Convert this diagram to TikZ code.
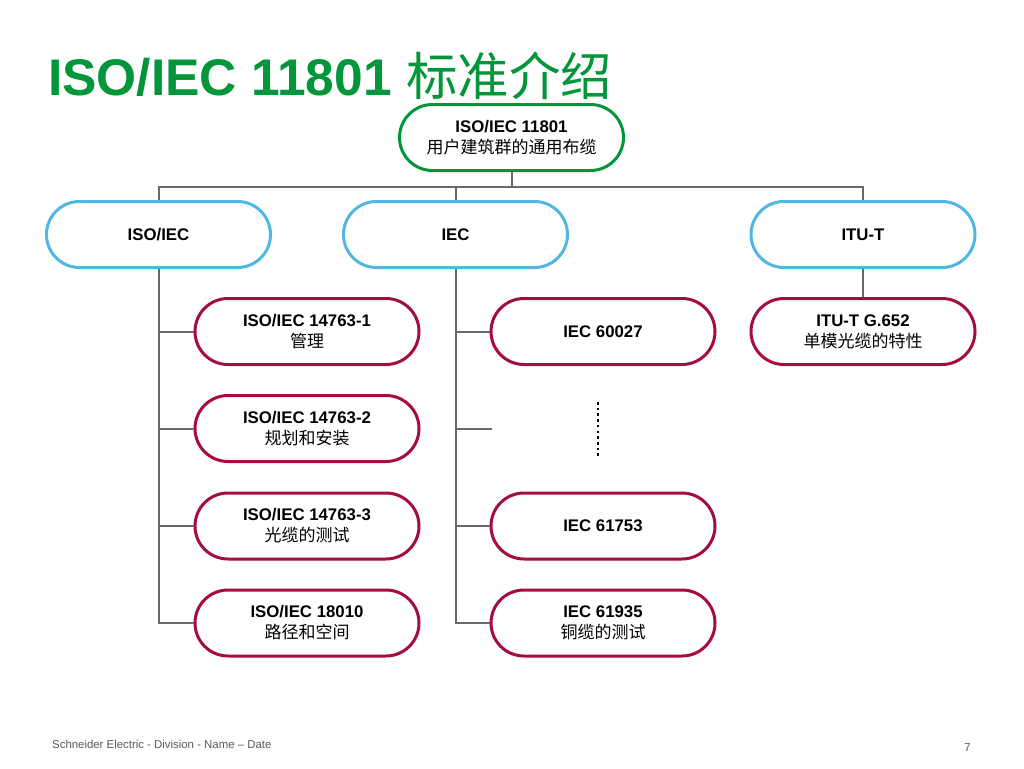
\documentclass[tikz,border=0pt]{standalone}
\usepackage{fontspec}
\setmainfont{Liberation Sans}
\newfontfamily\cjk{Noto Sans CJK SC}
\definecolor{sgreen}{RGB}{0,150,57}
\definecolor{sblue}{RGB}{82,182,226}
\definecolor{scrim}{RGB}{166,12,68}
\definecolor{conn}{RGB}{105,105,105}
\definecolor{foot}{RGB}{90,90,90}
\begin{document}
\begin{tikzpicture}[x=1pt,y=-1pt,
  box/.style={draw, line width=3pt, rounded corners=33pt, minimum width=224pt,
    minimum height=66pt, align=center, fill=white, inner sep=0pt,
    font=\fontsize{16.8}{21}\selectfont},
  topbox/.style={box, draw=sgreen},
  midbox/.style={box, draw=sblue},
  leafbox/.style={box, draw=scrim},
  conn/.style={draw=conn, line width=2pt}]
\useasboundingbox[fill=white] (0,0) rectangle (1024,768);

% title
\node[anchor=base west, inner sep=0pt, text=sgreen] (title) at (48,95)
  {\fontsize{51.5}{60}\selectfont\bfseries ISO/IEC 11801 {\cjk\mdseries 标准介绍}};

% nodes
\node[topbox] (top) at (511.5,137.5) {\textbf{ISO/IEC 11801}\\{\cjk\fontsize{17}{21}\selectfont 用户建筑群的通用布缆}};

\node[midbox] (isoiec) at (158.5,234.5) {\textbf{ISO/IEC}};
\node[midbox] (iec) at (455.5,234.5) {\textbf{IEC}};
\node[midbox] (itut) at (863,234.5) {\textbf{ITU-T}};

\node[leafbox] (a1) at (307,331.5) {\textbf{ISO/IEC 14763-1}\\{\cjk\fontsize{17}{21}\selectfont 管理}};
\node[leafbox] (a2) at (307,428.5) {\textbf{ISO/IEC 14763-2}\\{\cjk\fontsize{17}{21}\selectfont 规划和安装}};
\node[leafbox] (a3) at (307,526) {\textbf{ISO/IEC 14763-3}\\{\cjk\fontsize{17}{21}\selectfont 光缆的测试}};
\node[leafbox] (a4) at (307,623) {\textbf{ISO/IEC 18010}\\{\cjk\fontsize{17}{21}\selectfont 路径和空间}};

\node[leafbox] (b1) at (603,331.5) {\textbf{IEC 60027}};
\node[leafbox] (b3) at (603,526) {\textbf{IEC 61753}};
\node[leafbox] (b4) at (603,623) {\textbf{IEC 61935}\\{\cjk\fontsize{17}{21}\selectfont 铜缆的测试}};

\node[leafbox] (c1) at (863,331.5) {\textbf{ITU-T G.652}\\{\cjk\fontsize{17}{21}\selectfont 单模光缆的特性}};

% connectors
\coordinate (bus) at (511.5,187);
\coordinate (bfree) at (492,428.5);
\path[conn] (top.south) -- (bus);
\path[conn] (isoiec.north) -- (isoiec.north |- bus) -- (itut.north |- bus) -- (itut.north);
\path[conn] (iec.north) -- (iec.north |- bus);

\path[conn] (isoiec.south) -- (isoiec.south |- a4.west) -- (a4.west);
\path[conn] (isoiec.south |- a1.west) -- (a1.west);
\path[conn] (isoiec.south |- a2.west) -- (a2.west);
\path[conn] (isoiec.south |- a3.west) -- (a3.west);

\path[conn] (iec.south) -- (iec.south |- b4.west) -- (b4.west);
\path[conn] (iec.south |- b1.west) -- (b1.west);
\path[conn] (iec.south |- bfree) -- (bfree);
\path[conn] (iec.south |- b3.west) -- (b3.west);

\path[conn] (itut.south) -- (c1.north);

% vertical ellipsis
\draw[black, line width=2.6pt, dash pattern=on 2.6pt off 3.1pt] (598,402) -- (598,457);

% footer
\node[anchor=base west, inner sep=0pt, text=foot, font=\fontsize{11.4}{13}\selectfont] (footer) at (52,748)
  {Schneider Electric - Division - Name – Date};
\node[anchor=base east, inner sep=0pt, text=foot, font=\fontsize{11.4}{13}\selectfont] (page) at (971,751) {7};
\end{tikzpicture}
\end{document}
